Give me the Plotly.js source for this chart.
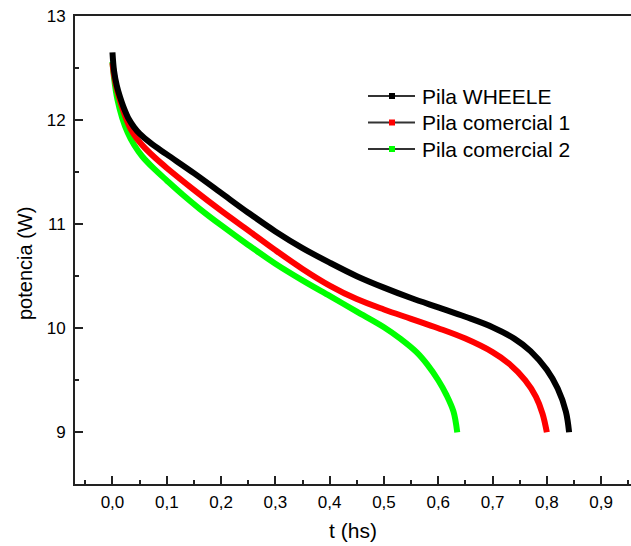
<!DOCTYPE html>
<html><head><meta charset="utf-8">
<script src="https://cdn.plot.ly/plotly-3.0.1.min.js"></script>
<style>html,body{margin:0;padding:0;background:#fff}#chart{width:631px;height:546px}</style>
</head><body><div id="chart"></div>
<script>
const seriesNames = ["Pila WHEELE", "Pila comercial 1", "Pila comercial 2"];
const seriesColors = ["#000000", "#ff0000", "#00ff00"];

const tWheele = [0, 0.003, 0.008, 0.014, 0.02, 0.03, 0.04, 0.05, 0.07, 0.1, 0.15, 0.2, 0.25, 0.3, 0.35, 0.4, 0.45, 0.5, 0.55, 0.6, 0.65, 0.7, 0.74, 0.77, 0.8, 0.82, 0.835, 0.841];
const pWheele = [12.65, 12.47, 12.33, 12.22, 12.13, 12.01, 11.93, 11.87, 11.78, 11.67, 11.49, 11.3, 11.11, 10.93, 10.77, 10.63, 10.5, 10.39, 10.29, 10.2, 10.11, 10.01, 9.9, 9.78, 9.6, 9.42, 9.2, 9.0];

const tCom1 = [0, 0.003, 0.008, 0.015, 0.024, 0.033, 0.045, 0.06, 0.08, 0.1, 0.15, 0.2, 0.25, 0.3, 0.35, 0.4, 0.45, 0.5, 0.55, 0.6, 0.65, 0.7, 0.73, 0.76, 0.78, 0.792, 0.8];
const pCom1 = [12.55, 12.43, 12.3, 12.17, 12.03, 11.92, 11.82, 11.73, 11.63, 11.54, 11.33, 11.13, 10.94, 10.75, 10.57, 10.41, 10.28, 10.18, 10.09, 10.0, 9.9, 9.77, 9.66, 9.5, 9.34, 9.18, 9.0];

const tCom2 = [0, 0.003, 0.009, 0.018, 0.028, 0.04, 0.055, 0.075, 0.1, 0.13, 0.16, 0.2, 0.25, 0.3, 0.35, 0.4, 0.45, 0.5, 0.53, 0.56, 0.58, 0.6, 0.615, 0.628, 0.635];
const pCom2 = [12.56, 12.4, 12.2, 12.02, 11.88, 11.76, 11.65, 11.54, 11.42, 11.28, 11.15, 10.99, 10.8, 10.62, 10.46, 10.31, 10.16, 10.01, 9.9, 9.77, 9.65, 9.5, 9.36, 9.2, 9.0];

const xTickVals = [0, 0.1, 0.2, 0.3, 0.4, 0.5, 0.6, 0.7, 0.8, 0.9];
const xTickText = ["0,0", "0,1", "0,2", "0,3", "0,4", "0,5", "0,6", "0,7", "0,8", "0,9"];
const yTickVals = [9, 10, 11, 12, 13];

const xs = [tWheele, tCom1, tCom2];
const ys = [pWheele, pCom1, pCom2];

const FONT = 'Liberation Sans, Arial, sans-serif';
const W = 631, H = 546, ML = 75, MR = 0, MT = 16, MB = 62;
const PW = W - ML - MR, PH = H - MT - MB;
const px = p => (p - ML) / PW;
const py = p => 1 - (p - MT) / PH;

const traces = [];
[2, 1, 0].forEach(i => {
  traces.push({
    x: xs[i], y: ys[i], type: 'scatter', mode: 'lines',
    line: {color: seriesColors[i], width: 6, shape: 'spline', smoothing: 1},
    showlegend: false, hoverinfo: 'skip', name: seriesNames[i]
  });
});

// hand-built legend (line sample + square marker + text)
const shapes = [], annotations = [];
const legendRows = [96, 122.5, 149];
seriesNames.forEach((name, i) => {
  const yy = py(legendRows[i]);
  shapes.push({type: 'line', xref: 'paper', yref: 'paper', x0: px(368), x1: px(415), y0: yy, y1: yy,
               line: {color: '#333333', width: 2}});
  shapes.push({type: 'rect', xref: 'paper', yref: 'paper', x0: px(389), x1: px(395),
               y0: py(legendRows[i] + 3), y1: py(legendRows[i] - 3),
               line: {width: 0}, fillcolor: seriesColors[i]});
  annotations.push({text: name, xref: 'paper', yref: 'paper', x: px(420), y: yy,
                    xanchor: 'left', yanchor: 'middle', showarrow: false,
                    font: {family: FONT, size: 21, color: '#000'}});
});
annotations.push({
  text: 'potencia (W)', textangle: -90,
  xref: 'paper', yref: 'paper', x: px(25), y: py(264),
  xanchor: 'center', yanchor: 'middle', showarrow: false,
  font: {family: FONT, size: 20, color: '#000'}
});

const axisFont = {family: FONT, size: 17, color: '#000'};

const layout = {
  width: W, height: H,
  margin: {l: ML, r: MR, t: MT, b: MB},
  paper_bgcolor: '#fff', plot_bgcolor: '#fff',
  showlegend: false,
  xaxis: {
    range: [-0.069, 0.955],
    tickvals: xTickVals, ticktext: xTickText,
    ticks: 'inside', ticklen: 8, tickwidth: 2, tickcolor: '#222',
    minor: {dtick: 0.05, tick0: 0, ticks: 'inside', ticklen: 4, tickwidth: 2, tickcolor: '#222', showgrid: false},
    showline: true, linewidth: 2, linecolor: '#222', mirror: true,
    showgrid: false, zeroline: false,
    tickfont: axisFont, ticklabelstandoff: 2,
    title: {text: 't (hs)', font: {family: FONT, size: 21, color: '#000'}, standoff: 12}
  },
  yaxis: {
    range: [8.503, 13],
    tickvals: yTickVals,
    ticks: 'inside', ticklen: 8, tickwidth: 2, tickcolor: '#222',
    minor: {dtick: 0.5, tick0: 0, ticks: 'inside', ticklen: 4, tickwidth: 2, tickcolor: '#222', showgrid: false},
    showline: true, linewidth: 2, linecolor: '#222',
    showgrid: false, zeroline: false,
    tickfont: axisFont, ticklabelstandoff: 4
  },
  shapes: shapes,
  annotations: annotations
};

Plotly.newPlot('chart', traces, layout, {displayModeBar: false, staticPlot: true});
</script></body></html>
